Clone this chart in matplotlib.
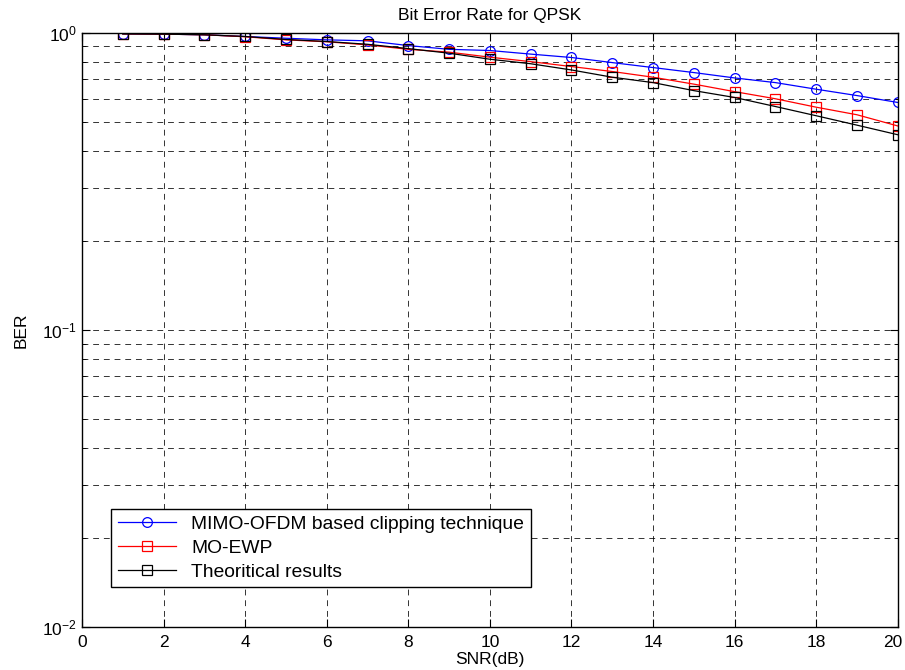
import matplotlib
matplotlib.use("Agg")
import matplotlib.pyplot as plt
import matplotlib.transforms as mtransforms
import numpy as np

plt.rcParams['font.family'] = ['Liberation Sans', 'DejaVu Sans']

snr = [1, 2, 3, 4, 5, 6, 7, 8, 9, 10, 11, 12, 13, 14, 15, 16, 17, 18, 19, 20]
ber_clip = [0.992, 0.99, 0.985, 0.972, 0.959, 0.947, 0.94, 0.906, 0.88, 0.872,
            0.848, 0.826, 0.794, 0.764, 0.735, 0.705, 0.68, 0.646, 0.615, 0.583]
ber_ewp = [0.992, 0.99, 0.985, 0.97, 0.947, 0.933, 0.911, 0.88, 0.861, 0.828,
           0.80, 0.77, 0.741, 0.709, 0.672, 0.634, 0.60, 0.562, 0.53, 0.486]
ber_theory = [0.992, 0.99, 0.985, 0.972, 0.95, 0.935, 0.915, 0.885, 0.854, 0.815,
              0.787, 0.75, 0.709, 0.68, 0.639, 0.606, 0.565, 0.526, 0.489, 0.454]
labels = ['MIMO-OFDM based clipping technique', 'MO-EWP', 'Theoritical results']

fig = plt.figure(figsize=(9.05, 6.7), dpi=100)
ax = fig.add_axes([0.0906, 0.064, 0.9014, 0.887])

ax.semilogy(snr, ber_clip, color='blue', lw=0.9, marker='o', ms=7, mfc='none', mew=0.9, label=labels[0])
ax.semilogy(snr, ber_ewp, color='red', lw=0.9, marker='s', ms=7, mfc='none', mew=0.9, label=labels[1])
ax.semilogy(snr, ber_theory, color='black', lw=0.9, marker='s', ms=7, mfc='none', mew=0.9, label=labels[2])

ax.set_xlim(0, 20)
ax.set_ylim(1e-2, 1)
ax.set_xticks(np.arange(0, 21, 2))
ax.grid(True, which='major', ls=(0, (6, 5)), color='black', lw=0.7, alpha=0.8)
ax.grid(True, which='minor', axis='y', ls=(0, (6, 5)), color='black', lw=0.7, alpha=0.8)
ax.tick_params(which='both', direction='in', top=True, right=True, labelsize=12.5)
ax.tick_params(axis='x', pad=6)
ax.tick_params(which='major', length=6)
ax.tick_params(which='minor', length=3)
for s in ax.spines.values():
    s.set_linewidth(1.0)

# keep the last x label inside the figure
fig.canvas.draw()
last = ax.get_xticklabels()[-1]
last.set_transform(last.get_transform() + mtransforms.ScaledTranslation(-5 / 100, 0, fig.dpi_scale_trans))

ax.set_title('Bit Error Rate for QPSK', fontsize=12.5, pad=9)
ax.set_xlabel('SNR(dB)', fontsize=12.5, labelpad=1)
ax.set_ylabel('BER', fontsize=12.5, labelpad=10)

leg = ax.legend(loc='lower left', bbox_to_anchor=(0.0355, 0.067), borderaxespad=0, fontsize=13.9,
                fancybox=False, framealpha=1, edgecolor='black', handlelength=3.0,
                borderpad=0.35, labelspacing=0.32)
leg.get_frame().set_linewidth(1.0)

fig.savefig('out.png', dpi=100)
